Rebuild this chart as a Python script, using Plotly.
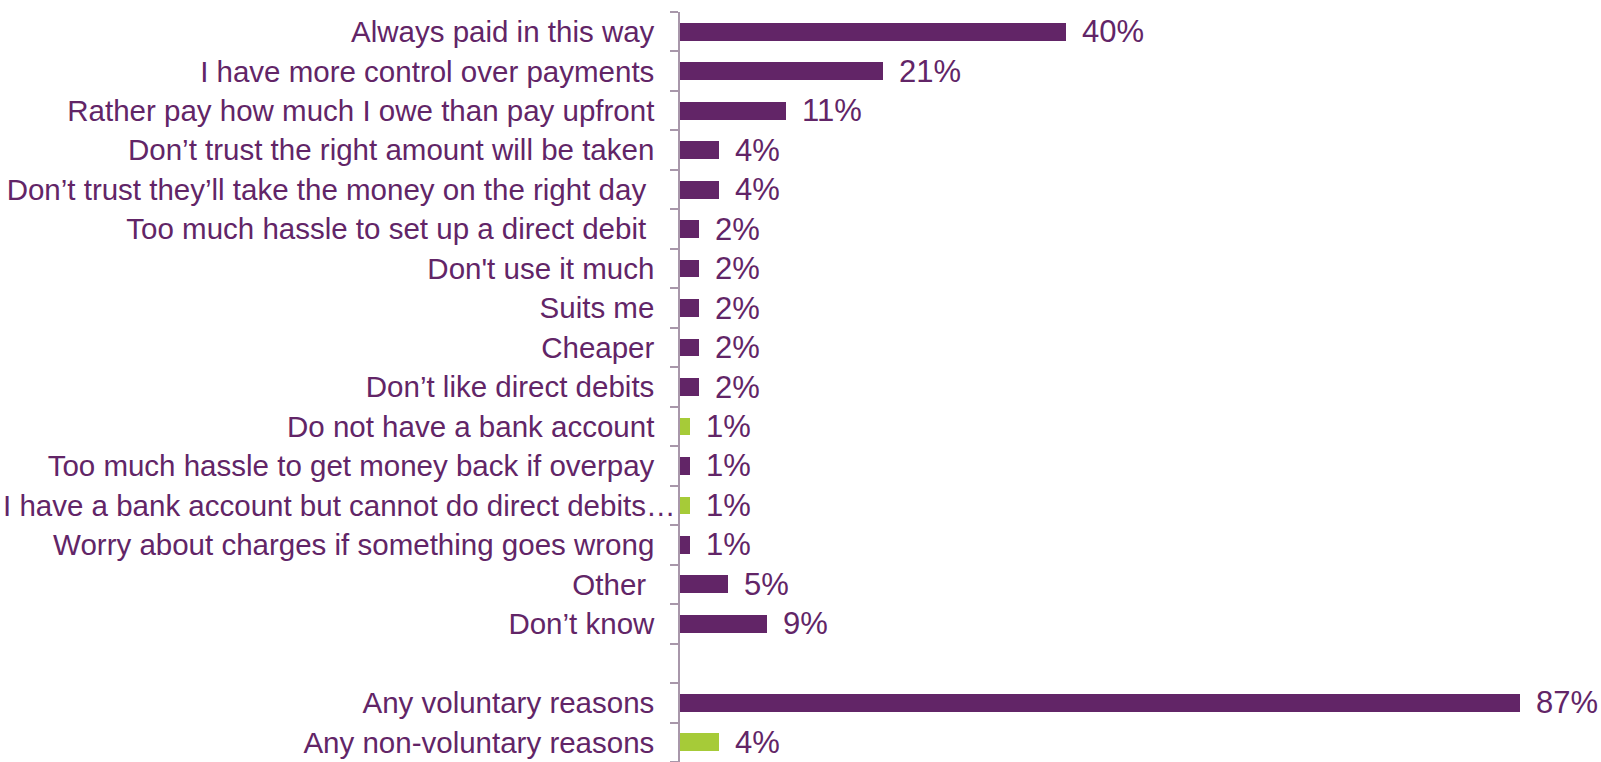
import plotly.graph_objects as go

# Reasons for paying this way, top to bottom (blank row separates the summary rows)
categories = [
    "Always paid in this way",
    "I have more control over payments",
    "Rather pay how much I owe than pay upfront",
    "Don’t trust the right amount will be taken",
    "Don’t trust they’ll take the money on the right day ",
    "Too much hassle to set up a direct debit ",
    "Don't use it much",
    "Suits me",
    "Cheaper",
    "Don’t like direct debits",
    "Do not have a bank account",
    "Too much hassle to get money back if overpay",
    "I have a bank account but cannot do direct debits…",
    "Worry about charges if something goes wrong",
    "Other ",
    "Don’t know",
    "  ",
    "Any voluntary reasons",
    "Any non-voluntary reasons",
]
values = [40, 21, 11, 4, 4, 2, 2, 2, 2, 2, 1, 1, 1, 1, 5, 9, None, 87, 4]
groups = ["v", "v", "v", "v", "v", "v", "v", "v", "v", "v", "n", "v", "n", "v", "v", "v", "", "v", "n"]

# The truncated label runs past the others, almost up to the axis
overflow_label = "I have a bank account but cannot do direct debits…"

PURPLE = "#622567"
GREEN = "#A6CB38"
TEXT = "#622567"
AXIS = "#A897AA"
FONT = "Liberation Sans, Arial, sans-serif"

colors = [GREEN if g == "n" else PURPLE for g in groups]

fig = go.Figure()
fig.add_trace(go.Bar(
    y=categories,
    x=values,
    orientation="h",
    marker=dict(color=colors, line=dict(width=0)),
    width=0.45,
    hoverinfo="skip",
))

for cat, val in zip(categories, values):
    if val is None:
        continue
    fig.add_annotation(
        x=val, y=cat, text=f"{val}%", showarrow=False,
        xanchor="left", yanchor="middle", xshift=14,
        font=dict(family=FONT, size=31, color=TEXT),
    )

fig.add_annotation(
    x=0, y=overflow_label, text=overflow_label, showarrow=False,
    xanchor="right", yanchor="middle", xshift=-3,
    font=dict(family=FONT, size=29.5, color=TEXT),
)

ticktext = ["" if c == overflow_label else c for c in categories]

fig.update_layout(
    width=1601, height=762,
    margin=dict(l=680, r=4, t=12, b=0),
    plot_bgcolor="white", paper_bgcolor="white",
    showlegend=False,
    bargap=0,
)
fig.update_xaxes(
    range=[0, 95], visible=False, showgrid=False, zeroline=False,
)
fig.update_yaxes(
    type="category",
    categoryorder="array", categoryarray=categories,
    tickmode="array", tickvals=categories, ticktext=ticktext,
    autorange="reversed",
    automargin=False,
    showline=True, linecolor=AXIS, linewidth=1.5,
    ticks="outside", ticklen=8, tickcolor=AXIS, tickwidth=1.5,
    tickson="boundaries",
    ticklabelstandoff=18,
    showgrid=False, zeroline=False,
    tickfont=dict(family=FONT, size=29.5, color=TEXT),
)

fig.write_html("out.html")
